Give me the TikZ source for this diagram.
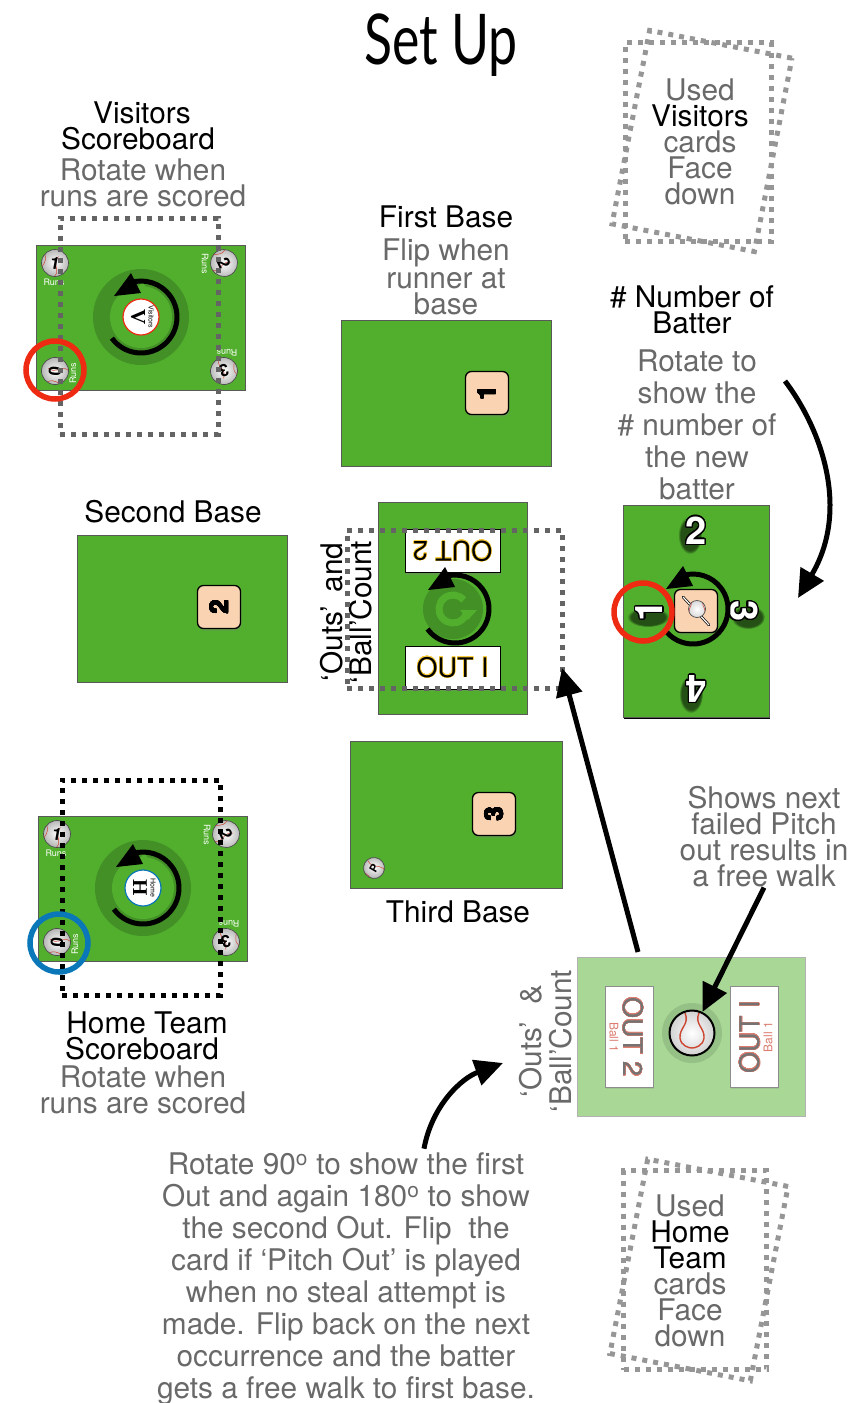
\documentclass[tikz,border=0pt]{standalone}
\usepackage{fontspec}
\usepackage{xcolor}
\usepackage{contour}
\usetikzlibrary{arrows.meta,shadows,fadings}
\setmainfont{TeX Gyre Heros}
\newfontfamily\titlefont{Lato}
\newfontfamily\dialfont{Liberation Serif}
\definecolor{fieldgreen}{RGB}{82, 175, 46}
\definecolor{ringgreen}{RGB}{66, 144, 38}
\definecolor{palegreen}{RGB}{168, 215, 150}
\definecolor{tilepeach}{RGB}{250, 212, 178}
\definecolor{notegray}{RGB}{105, 105, 105}
\definecolor{dotgray}{RGB}{100, 100, 100}
\definecolor{usedgray}{RGB}{150, 150, 150}
\definecolor{markred}{RGB}{238, 42, 18}
\definecolor{markblue}{RGB}{10, 119, 184}
\definecolor{seamred}{RGB}{205, 70, 50}
\definecolor{outyellow}{RGB}{250, 205, 60}
\contourlength{0.9pt}
\contournumber{24}
\tikzset{
  fieldcard/.style={draw=black!65,line width=0.8pt,fill=fieldgreen,inner sep=0pt,outer sep=0pt},
  peachtile/.style={draw=black,line width=1.3pt,fill=tilepeach,rounded corners=6pt,minimum size=43pt,
    inner sep=0pt,font=\fontsize{25}{25}\selectfont\bfseries,drop shadow={shadow xshift=1pt,shadow yshift=-2pt,opacity=0.35}},
  outcard/.style={draw=black,line width=0.8pt,fill=white,minimum width=95pt,minimum height=43pt,inner sep=0pt,
    font=\fontsize{27}{27}\selectfont,drop shadow={shadow xshift=1pt,shadow yshift=-2pt,opacity=0.35}},
  countcard/.style={draw=black!45,line width=0.8pt,fill=white,minimum width=48pt,minimum height=101pt,inner sep=0pt,
    drop shadow={shadow xshift=1pt,shadow yshift=-2pt,opacity=0.2}},
  dotbox/.style={line width=5pt,dash pattern=on 5pt off 6pt,inner sep=0pt,outer sep=0pt},
  markring/.style={circle,line width=5.5pt,minimum size=58pt,inner sep=0pt},
  coin/.style={circle,draw=black!70,line width=0.7pt,inner color=white,outer color=black!30,minimum size=27pt,inner sep=0pt,
    font=\fontsize{17}{17}\selectfont\bfseries,
    path picture={\draw[seamred,line width=0.5pt] (-7,-13) .. controls (-2,-5) and (-9,-2) .. (-8,4) .. controls (-7,9) and (-2,10) .. (1,10);
      \draw[seamred,line width=0.5pt] (7,-13) .. controls (2,-5) and (9,-2) .. (8,4) .. controls (7,9) and (2,10) .. (-1,10);}},
  bigball/.style={circle,draw=black,line width=2pt,inner color=white,outer color=black!18,minimum size=45pt,inner sep=0pt,
    path picture={\draw[seamred,line width=1.4pt] (-7,-20) .. controls (-2,-9) and (-13,-5) .. (-12,5) .. controls (-11,13) and (-3,15) .. (0,15);
      \draw[seamred,line width=1.4pt] (7,-20) .. controls (2,-9) and (13,-5) .. (12,5) .. controls (11,13) and (3,15) .. (0,15);}},
  heading/.style={align=center,inner sep=0pt,font=\fontsize{29.8}{26}\selectfont},
  note/.style={heading,text=notegray},
  widenote/.style={note,font=\fontsize{29.8}{32}\selectfont},
  runslabel/.style={text=white,inner sep=0pt,font=\fontsize{9}{9}\selectfont},
  batternum/.style={text=white,inner sep=0pt,font=\fontsize{38}{38}\selectfont\bfseries},
  bigarrow/.style={line width=5pt,-{Triangle[length=28pt,width=26pt]}},
}
% rotate arrow with its upright head, around the current origin
\newcommand{\spinarrow}[2]{
  \draw[line width=5pt] (216:#1pt) arc[start angle=216,end angle=#2,radius=#1pt];
  \fill[black] (-10,-#1-8) -- (-27,-#1+15) -- (0,-#1+12) -- cycle;
}
% one scoreboard: corner x, y, letter, word, ring colour
\newcommand{\scoreboard}[6]{
  \begin{scope}[shift={(#1,#2)},name prefix=#3-]
    \node[fieldcard,minimum width=209pt,minimum height=145pt] (card) at (104.5,72.5) {};
    \foreach \n/\cx/\cy/\rot/\lx/\ly/\lrot in {0/19/126/85/37/128/90,1/19/18/-10/18/37/0,2/188/18/-65/169/19/-90,3/188/126/195/191/108/180} {
      \node[coin,rotate=\rot] (coin\n) at (\cx,\cy) {\n};
      \node[runslabel,rotate=\lrot] (runs\n) at (\lx,\ly) {Runs};
    }
    \fill[ringgreen] (105,72) circle (48pt);
    \fill[fieldgreen] (105,72) circle (31pt);
    \fill[fieldgreen] (107,35) -- (97,50) -- (113,54) -- cycle;
    \node[circle,draw=#6,line width=1.2pt,fill=white,minimum size=36pt,inner sep=0pt] (disc) at (105,72) {};
    \node[rotate=-90,inner sep=0pt,font=\fontsize{21}{21}\selectfont\dialfont\bfseries] (letter) at (102,72) {#4};
    \node[rotate=-90,inner sep=0pt,font=\fontsize{7}{7}\selectfont] (word) at (115,72) {#5};
    \begin{scope}[shift={(105,72)}]
      \spinarrow{36}{468}
    \end{scope}
  \end{scope}
}
\begin{document}
\begin{tikzpicture}[x=1pt,y=-1pt]
  \useasboundingbox (0,0) rectangle (859,1403);

  % Title
  \node[inner sep=0pt,xscale=0.74,font=\fontsize{70}{70}\selectfont\titlefont] (title) at (441,45) {Set Up};

  % Discard piles
  \node[dotbox,draw=usedgray,minimum width=146pt,minimum height=199pt] (usedA) at (698,142) {};
  \node[dotbox,draw=usedgray,minimum width=145pt,minimum height=197pt,rotate=-11] (usedB) at (702,141) {};
  \node[heading,text=notegray] (usedtext) at (700,142) {Used\\\textcolor{black}{Visitors}\\cards\\Face\\down};
  \node[dotbox,draw=usedgray,minimum width=143pt,minimum height=199pt] (usedC) at (695,1270) {};
  \node[dotbox,draw=usedgray,minimum width=143pt,minimum height=198pt,rotate=-11] (usedD) at (699,1270) {};
  \node[heading,text=notegray] (usedhome) at (690,1271) {Used\\\textcolor{black}{Home}\\\textcolor{black}{Team}\\cards\\Face\\down};

  % Scoreboards
  \node[heading] (vishead) at (138,126) {\hspace*{8pt}Visitors\\Scoreboard};
  \node[note] (visnote) at (143,183) {Rotate when\\runs are scored};
  \scoreboard{36}{245}{vis}{V}{Visitors}{markred}
  \node[dotbox,draw=dotgray,minimum width=158pt,minimum height=216pt] (visbox) at (139,326) {};
  \node[markring,draw=markred] (visring) at (55,370) {};

  \node[heading] (homehead) at (143,1036) {\hspace*{8pt}Home Team\\Scoreboard\hspace*{2pt}};
  \node[note] (homenote) at (143,1090) {Rotate when\\runs are scored};
  \scoreboard{38}{816}{home}{H}{Home}{markblue}
  \node[dotbox,draw=black,minimum width=158pt,minimum height=215pt] (homebox) at (141,887.5) {};
  \node[markring,draw=markblue] (homering) at (59,943) {};

  % Bases
  \node[heading] (firsthead) at (446,217) {First Base};
  \node[note] (firstnote) at (446,277) {Flip when\\runner at\\base};
  \node[fieldcard,minimum width=210pt,minimum height=146pt] (firstcard) at (446,393) {};
  \node[peachtile] (firsttile) at (487,393) {\contourlength{0.5pt}\rotatebox{90}{\contour{black}{1}}};

  \node[heading] (secondhead) at (173,512) {Second Base};
  \node[fieldcard,minimum width=210pt,minimum height=147pt] (secondcard) at (182,608.5) {};
  \node[peachtile] (secondtile) at (219,607) {\contourlength{0.5pt}\rotatebox{90}{\contour{black}{2}}};

  \node[fieldcard,minimum width=212pt,minimum height=147pt] (thirdcard) at (456,814.5) {};
  \node[peachtile] (thirdtile) at (494,814) {\contourlength{0.5pt}\rotatebox{90}{\contour{black}{3}}};
  \node[coin,minimum size=21pt,rotate=60,font=\fontsize{11}{11}\selectfont\bfseries] (thirdball) at (374,868) {P};
  \node[heading] (thirdhead) at (458,912) {Third Base};

  % Outs card on the field
  \node[fieldcard,minimum width=149pt,minimum height=212pt] (outscard) at (452.5,608) {};
  \node[heading,rotate=90,font=\fontsize{29.8}{28.5}\selectfont] (outslabel) at (346,612) {‘Outs’ \,and\\‘Ball’Count};
  \fill[ringgreen] (453,609) circle (30pt);
  \draw[fieldgreen,line width=7pt] (453,609) ++(40:14pt) arc[start angle=40,end angle=355,radius=14pt];
  \fill[fieldgreen] (460,610) -- (477,610) -- (468,620) -- cycle;
  \node[outcard] (outtwo) at (452.5,551) {\contourlength{0.5pt}\rotatebox{180}{\contour{outyellow}{OUT 2}}};
  \node[outcard] (outone) at (452.5,667.5) {\contourlength{0.5pt}\contour{outyellow}{OUT  I}};
  \begin{scope}[shift={(455,609)}]
    \spinarrow{34}{468}
  \end{scope}
  \node[dotbox,draw=dotgray,minimum width=215pt,minimum height=158pt] (outsbox) at (454.5,609) {};

  % Batter card
  \node[heading] (batterhead) at (692,310) {\# Number of\\Batter};
  \node[widenote] (batternote) at (697,425) {Rotate to\\show the\\\# number of\\the new\\batter};
  \node[fieldcard,minimum width=146pt,minimum height=212pt] (battercard) at (696,611) {};
  \draw[black,line width=0.6pt] (battercard.south west) ++(1,1.5) -- ++(146,0);
  % soft shadows behind the numbers
  \foreach \sx/\sy/\rx/\ry in {690/535/12/19,648/617/21/10,748/617/17/12,691/694/12/19} {
    \fill[ringgreen!55!black,path fading=circle with fuzzy edge 20 percent] (\sx,\sy) ellipse (\rx pt and \ry pt);
  }
  \contourlength{1.2pt}
  \node[batternum] (numtwo) at (696,531) {\contour{black}{2}};
  \node[batternum,rotate=90] (numone) at (650,611) {\contour{black}{1}};
  \node[batternum,rotate=-90] (numthree) at (743,611) {\contour{black}{3}};
  \node[batternum,rotate=180] (numfour) at (696,688) {\contour{black}{4}};
  \contourlength{0.9pt}
  \node[peachtile] (battertile) at (696,611) {};
  \draw[black,line width=2.6pt,line cap=round] (683,597) -- (709,625);
  \draw[white,line width=1.2pt,line cap=round] (683,597) -- (709,625);
  \node[coin,minimum size=17pt,inner color=white,outer color=black!15] (batterball) at (697,609) {};
  \begin{scope}[shift={(693,609)}]
    \spinarrow{35}{468}
  \end{scope}
  \node[markring,draw=markred] (batterring) at (643,612) {};

  % Ball count card
  \node[fieldcard,draw=black!30,fill=palegreen,minimum width=228pt,minimum height=159pt] (countcard) at (691,1036.5) {};
  \node[note,rotate=90,text=notegray,font=\fontsize{29.8}{30}\selectfont] (countlabel) at (546,1041) {‘Outs’ \ \&\\‘Ball’Count};
  \node[countcard] (countleft) at (629,1036.5) {};
  \node[countcard] (countright) at (754,1036.5) {};
  \node[rotate=-90,inner sep=0pt,text=black!55,font=\fontsize{27}{27}\selectfont] (countouttwo) at (633,1037) {\contourlength{0.3pt}\contour{seamred!70}{OUT 2}};
  \node[rotate=90,inner sep=0pt,text=black!55,font=\fontsize{27}{27}\selectfont] (countoutone) at (750,1037) {\contourlength{0.3pt}\contour{seamred!70}{OUT I}};
  \node[rotate=-90,inner sep=0pt,text=seamred!70,font=\fontsize{12}{12}\selectfont] (ballleft) at (614,1037) {Ball 1};
  \node[rotate=90,inner sep=0pt,text=seamred!70,font=\fontsize{12}{12}\selectfont] (ballright) at (768,1037) {Ball 1};
  \fill[black,opacity=0.1] (692,1033) circle (30pt);
  \node[bigball] (ball) at (692,1033) {};

  % Notes
  \node[heading,text=notegray] (walknote) at (764,837) {Shows next\\failed Pitch\\out results in\\a free walk};
  \node[widenote] (pitchnote) at (346,1279) {Rotate 90\textsuperscript{o} to show the first\\Out and again 180\textsuperscript{o} to show\\the second Out. Flip\ \ the\\card if ‘Pitch Out’ is played\\when no steal attempt is\\made. Flip back on the next\\occurrence and the batter\\gets a free walk to first base.};

  % Arrows
  \coordinate (curvestart) at (785,381);
  \draw[bigarrow] (curvestart) .. controls (822,430) and (850,510) .. ([xshift=29pt,yshift=13pt]battercard.east);
  \draw[bigarrow] ([xshift=-53pt,yshift=5pt]countcard.north) -- ([yshift=20pt]outsbox.south east);
  \draw[bigarrow] (walknote.south) -- (ball);
  \draw[bigarrow] ([xshift=78pt,yshift=4pt]pitchnote.north) .. controls (432,1105) and (462,1078) .. ([xshift=-43pt,yshift=-22pt]countlabel.center);
\end{tikzpicture}
\end{document}
